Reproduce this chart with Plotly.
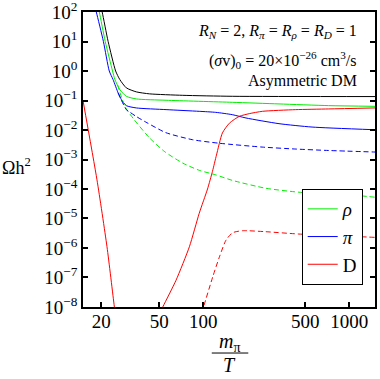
import plotly.graph_objects as go

# x = m_pi / T, y = Omega h^2
x_tot = [19.6, 20.3, 22.3, 25.1, 26.8, 29.7, 34.8, 42.9, 72.3, 158, 1500]
y_tot = [200, 100, 10, 1.0, 0.514, 0.269, 0.196, 0.168, 0.150, 0.139, 0.136]

x_rho = [18.7, 19.4, 21.3, 23.9, 24.8, 26.8, 29.7, 34.8, 55.6, 158, 330, 722, 1500]
y_rho = [200, 100, 10, 1.0, 0.514, 0.235, 0.139, 0.113, 0.102, 0.0869, 0.0766, 0.0671, 0.0635]

x_rho_d = [25.9, 29.0, 33.2, 42.9, 54.5, 72.3, 93.8, 121.7, 158, 268, 452, 1217, 1500]
y_rho_d = [0.339, 0.0635, 0.0242, 0.00535, 0.00183, 7.55e-4, 4.3e-4, 3.02e-4, 1.96e-4,
           1.06e-4, 7.78e-5, 5.82e-5, 5.26e-5]

x_pi = [17.8, 18.5, 20.7, 22.7, 24.1, 26.1, 27.5, 29.7, 34.8, 55.6, 93.8, 121.7, 158, 196, 330, 556, 1500]
y_pi = [200, 100, 10, 1.0, 0.514, 0.181, 0.107, 0.0671, 0.056, 0.0491, 0.043, 0.0397, 0.0331,
        0.0256, 0.0164, 0.0126, 0.0102]

x_pi_d = [26.1, 29.7, 31.5, 34.9, 41.1, 55.4, 84.5, 129, 253, 431, 722, 1500]
y_pi_d = [0.181, 0.049, 0.0398, 0.0283, 0.0177, 0.00813, 0.00468, 0.00355, 0.00264,
          0.00226, 0.00202, 0.00179]

x_D_low = [15.0, 18.7, 21.9, 24.6, 26.1]
y_D_low = [0.1, 2.04e-4, 1.1e-6, 1e-8, 1e-9]

x_D = [46.6, 52.8, 65.1, 80.3, 93.8, 106.9, 115.6, 123.1, 135.2, 150.9, 176.4, 206.4, 254.1,
       428.8, 722.5, 1500]
y_D = [2.8e-9, 1e-8, 8.09e-8, 1.1e-6, 1.5e-5, 1e-4, 3.98e-4, 1.41e-3, 7.94e-3, 0.017,
       0.029, 0.0358, 0.043, 0.049, 0.0518, 0.056]

x_D_d = [94.3, 100.4, 116.1, 129, 143.2, 158.9, 185.8, 268.1, 451.6, 1217, 1500]
y_D_d = [3.5e-9, 1e-8, 1.05e-7, 5.0e-7, 1.86e-6, 3.29e-6, 3.85e-6, 3.56e-6, 2.97e-6, 2.4e-6, 2.29e-6]

x_ticks = [20, 50, 100, 500, 1000]
y_exps = list(range(-8, 3))

GREEN, BLUE, RED = "#00ee00", "#0000ff", "#ff0000"
FONT = "Liberation Serif"
DASH = "5px,3px"

fig = go.Figure()


def add(x, y, color, name=None, dash=None, legend=False):
    fig.add_trace(go.Scatter(
        x=x, y=y, mode="lines", name=name, showlegend=legend,
        line=dict(color=color, width=1, dash=dash, shape="spline", smoothing=0.6),
    ))


add(x_rho, y_rho, GREEN, "<i>ρ</i>", legend=True)
add(x_pi, y_pi, BLUE, "<i>π</i>", legend=True)
add(x_D, y_D, RED, "D", legend=True)
add(x_D_low, y_D_low, RED)
add(x_tot, y_tot, "black")
add(x_rho_d, y_rho_d, GREEN, dash=DASH)
add(x_pi_d, y_pi_d, BLUE, dash=DASH)
add(x_D_d, y_D_d, RED, dash=DASH)

fig.update_layout(
    template="none",
    width=380, height=379,
    margin=dict(l=83, r=5, t=12, b=72, pad=0),
    plot_bgcolor="white", paper_bgcolor="white",
    font=dict(family=FONT, size=19, color="black"),
    legend=dict(
        x=0.749, y=0.4, xanchor="left", yanchor="top",
        bgcolor="white", bordercolor="black", borderwidth=1,
        font=dict(family=FONT, size=19), tracegroupgap=0,
    ),
)

fig.update_xaxes(
    type="log", range=[1.1761, 3.1761], automargin=False, ticklabeloverflow="allow",
    tickvals=x_ticks, ticktext=[str(v) for v in x_ticks], ticklabelstandoff=-4,
    ticks="inside", ticklen=5, tickwidth=1.5, tickcolor="black",
    showline=True, linewidth=1.5, linecolor="black", mirror=True,
    showgrid=False, zeroline=False,
)
fig.update_yaxes(
    type="log", range=[-8.001, 2.001], automargin=False, ticklabeloverflow="allow",
    tickvals=[10.0 ** e for e in y_exps],
    ticktext=["10<sup>%s</sup>" % str(e).replace("-", "−") for e in y_exps],
    ticks="inside", ticklen=5, tickwidth=1.5, tickcolor="black",
    showline=True, linewidth=1.5, linecolor="black", mirror="ticks",
    showgrid=False, zeroline=False,
)

# axis titles
fig.add_annotation(text="Ωh<sup>2</sup>", xref="paper", yref="paper",
                   x=-0.282, y=0.475, xanchor="left", yanchor="middle",
                   showarrow=False, font=dict(size=18), borderpad=0)
fig.add_annotation(text="<i>m</i><sub>π</sub>", xref="paper", yref="paper",
                   x=0.503, y=-0.122, yanchor="middle", showarrow=False, font=dict(size=20))
fig.add_annotation(text="<i>T</i>", xref="paper", yref="paper",
                   x=0.503, y=-0.197, yanchor="middle", showarrow=False, font=dict(size=20))
fig.add_shape(type="line", xref="paper", yref="paper",
              x0=0.441, x1=0.566, y0=-0.156, y1=-0.156,
              line=dict(color="black", width=1))

# parameter notes
notes = [
    ("<i>R<sub>N</sub></i> = 2, <i>R<sub>π</sub></i> = <i>R<sub>ρ</sub></i> = <i>R<sub>D</sub></i> = 1", 0.933),
    ("(<i>σ</i>v)<sub>0</sub> = 20×10<sup>−26</sup> cm<sup>3</sup>/s", 0.837),
    ("Asymmetric DM", 0.767),
]
for txt, yy in notes:
    fig.add_annotation(text=txt, xref="paper", yref="paper", x=0.945, y=yy,
                       xanchor="right", yanchor="middle", showarrow=False, font=dict(size=16))

fig.write_html("out.html", config={"displayModeBar": False},
               post_script="document.body.style.margin='0px';")
